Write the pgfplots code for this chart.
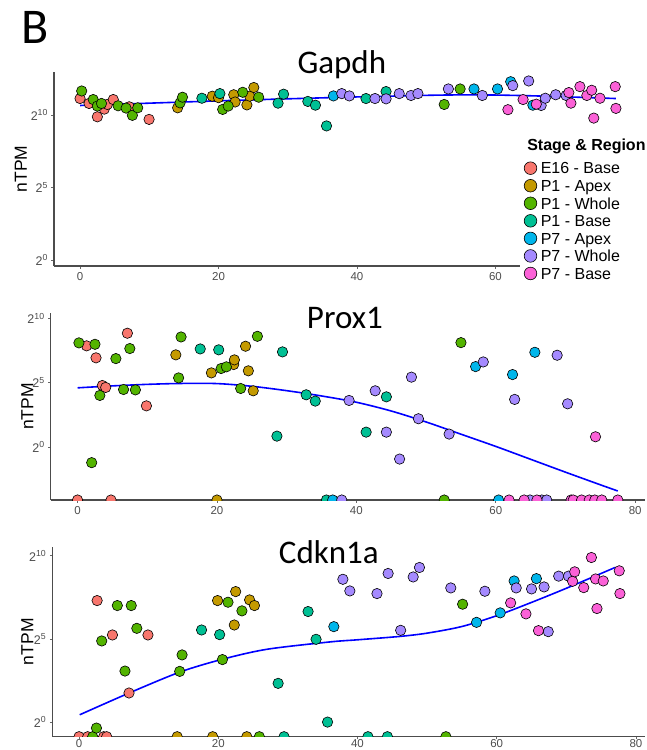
\documentclass[border=0pt]{standalone}
\usepackage{fontspec}
\setmainfont{Liberation Sans}
\newfontfamily\titlefont{Carlito}
\usepackage{pgfplots}
\pgfplotsset{compat=1.18}

\definecolor{cEbase}{HTML}{F8766D}
\definecolor{cPapex}{HTML}{C49A00}
\definecolor{cPwhole}{HTML}{53B400}
\definecolor{cPbase}{HTML}{00C094}
\definecolor{cQapex}{HTML}{00B6EB}
\definecolor{cQwhole}{HTML}{A58AFF}
\definecolor{cQbase}{HTML}{FB61D7}
\definecolor{axgrey}{HTML}{4D4D4D}

\pgfplotsset{
  panel/.style={
    scale only axis,
    axis lines=left,
    axis line style={-, black!70, line width=1.2bp},
    tick align=outside, major tick length=2.5bp,
    tick style={black!60, line width=0.8bp},
    xtick={0,20,40,60,80}, xticklabels={0,20,40,60,80},
    ytick={0,5,10},
    yticklabels={2\textsuperscript{0},2\textsuperscript{5},2\textsuperscript{10}},
    tick label style={font=\fontsize{11.5bp}{13bp}\selectfont, text=axgrey},
    yticklabel style={font=\fontsize{12.5bp}{14bp}\selectfont},
    ylabel={nTPM},
    every axis y label/.style={at={(rel axis cs:0,0.5)}, rotate=90,
      anchor=base, inner sep=0pt, font=\fontsize{17.5bp}{19bp}\selectfont},
    every axis title shift=0pt,
    title style={font=\titlefont\fontsize{33bp}{36bp}\selectfont,
      anchor=base, inner sep=0pt},
    clip marker paths=true,
  },
  dot/.style={only marks, mark=*, mark size=5.2bp,
    mark options={fill=#1, draw=black, line width=0.6bp},
    legend image code/.code={\draw[##1, mark size=6.3bp] plot coordinates {(0bp,1.5bp)};}},
  fit/.style={blue, line width=1.6bp, smooth, no marks, forget plot},
}

\begin{document}
\begin{tikzpicture}
\useasboundingbox (0,0) rectangle (647bp,-750bp);

\node[anchor=base west, inner sep=0pt,
      font=\titlefont\fontsize{50bp}{52bp}\selectfont] at (21.5bp,-43.3bp) {B};

% ---------------- Gapdh -------------------------------------------
\begin{axis}[panel,
  at={(54bp,-266bp)}, anchor=south west,
  width=591bp, height=194.3bp,
  xmin=-3.76, xmax=81.6, ymin=-0.41, ymax=12.99,
  xtick={0,20,40,60}, xticklabels={0,20,40,60},
  title={Gapdh},
  title style={at={(rel axis cs:0.487,1)}, yshift=-1.6bp},
  every axis y label/.append style={yshift=27bp},
  legend cell align=left,
  every axis legend/.append style={at={(rel axis cs:0.7885,0.678)},
    anchor=north west, draw=none, fill=white, inner sep=4bp,
    row sep=2bp, column sep=-9.5bp,
    font=\fontsize{16bp}{18bp}\selectfont,
    nodes={inner sep=0pt, text height=12bp, text depth=3.5bp}},
]
\addplot[fit] coordinates {
  (0,10.66) (10,10.82) (20,10.98) (30,11.12) (40,11.25) (50,11.36)
  (55,11.39) (60,11.38) (65,11.33) (70,11.26) (77.4,11.14)};
\addlegendimage{empty legend}
\addlegendentry[xshift=-13.5bp, text depth=9.4bp]{\textbf{Stage \& Region}}
\addplot[dot=cEbase] coordinates {
  (0,11.14) (1.3,10.8) (2.5,9.88) (3.5,10.41) (3.95,10.73) (4.8,11.07)
  (7.1,10.57) (9.97,9.7)};
\addlegendentry{E16 - Base}
\addplot[dot=cPapex] coordinates {
  (14.1,10.5) (19.1,11.3) (20.0,11.2) (22.2,11.4) (22.4,10.9) (24.1,10.7)
  (24.5,11.3) (25.1,11.9)};
\addlegendentry{P1 - Apex}
\addplot[dot=cPwhole] coordinates {
  (0.24,11.66) (1.9,11.07) (2.5,10.62) (3.1,10.8) (5.5,10.64) (6.65,10.48)
  (7.56,9.98) (8.33,10.5) (14.45,10.84) (14.8,11.23) (20.6,10.39)
  (21.4,10.62) (23.5,11.57) (25.8,11.23) (52.6,10.73) (54.9,11.8)};
\addlegendentry{P1 - Whole}
\addplot[dot=cPbase] coordinates {
  (17.6,11.16) (20.2,11.48) (28.6,10.82) (29.4,11.44) (32.9,10.94)
  (34.0,10.68) (35.6,9.25) (41.3,11.14) (44.2,11.62)};
\addlegendentry{P1 - Base}
\addplot[dot=cQapex] coordinates {
  (36.6,11.32) (56.9,11.8) (60.3,11.8) (62.2,12.3) (65.4,10.68)};
\addlegendentry{P7 - Apex}
\addplot[dot=cQwhole] coordinates {
  (37.8,11.48) (38.9,11.32) (42.6,11.14) (44.2,11.12) (46.1,11.48)
  (47.8,11.35) (48.8,11.48) (53.2,11.8) (58.1,11.35) (62.5,12.03)
  (64.8,12.35) (66.6,10.66) (67.2,11.16) (68.7,11.4) (70.2,11.35)};
\addlegendentry{P7 - Whole}
\addplot[dot=cQbase] coordinates {
  (61.8,10.37) (63.99,11.07) (65.9,10.75) (70.6,11.55) (70.9,10.82)
  (72.2,11.96) (73.2,11.35) (73.9,11.71) (74.2,9.79) (75.1,11.16)
  (77.3,11.96) (77.4,10.46)};
\addlegendentry{P7 - Base}
\end{axis}

% ---------------- Prox1 -------------------------------------------
\begin{axis}[panel,
  at={(50.7bp,-500bp)}, anchor=south west,
  width=594.3bp, height=187bp,
  xmin=-3.85, xmax=81.4, ymin=-4.11, ymax=10.41,
  title={Prox1},
  title style={at={(rel axis cs:0.495,1)}, yshift=-15.3bp},
  every axis y label/.append style={yshift=17.4bp},
]
\addplot[fit] coordinates {
  (0,4.6) (5,4.75) (10,4.87) (15,4.94) (20,4.93) (25,4.72) (30,4.38)
  (35,3.97) (40,3.48) (45,2.8) (50,1.95) (55,1.0) (60,0.05) (65,-0.95)
  (70,-1.95) (75,-2.93) (77.5,-3.41)};
\addplot[dot=cEbase] coordinates {
  (1.3,7.86) (2.65,6.93) (3.56,4.78) (4.04,4.63) (7.15,8.84) (9.88,3.20)
  (0,-4.11) (4.8,-4.11)};
\addplot[dot=cPapex] coordinates {
  (14.1,7.16) (19.2,5.76) (20.0,-4.11) (22.4,6.41) (22.5,6.77) (24.1,7.83)
  (24.5,5.92) (25.2,4.37)};
\addplot[dot=cPwhole] coordinates {
  (0.2,8.09) (2.5,7.98) (3.2,4.01) (5.5,6.87) (6.6,4.47) (7.5,7.65)
  (8.3,4.44) (2.03,-1.21) (14.5,5.37) (14.85,8.55) (20.6,6.10) (21.35,6.23)
  (23.4,4.55) (25.8,8.6) (55.0,8.11) (52.6,-4.11)};
\addplot[dot=cPbase] coordinates {
  (17.6,7.62) (20.25,7.55) (28.6,0.85) (29.4,7.39) (32.8,4.06) (34.1,3.57)
  (35.7,-4.11) (41.4,1.16) (44.3,3.90)};
\addplot[dot=cQapex] coordinates {
  (36.6,-4.11) (57.1,6.25) (60.4,-4.11) (62.4,5.63) (65.6,7.36)};
\addplot[dot=cQwhole] coordinates {
  (37.9,-4.11) (38.95,3.62) (42.7,4.37) (44.3,1.16) (46.2,-0.93)
  (47.9,5.43) (48.9,2.20) (53.3,1.01) (58.2,6.61) (62.7,3.70)
  (64.9,-4.11) (66.6,-4.11) (67.3,-4.11) (68.8,7.13) (70.3,3.36)};
\addplot[dot=cQbase] coordinates {
  (61.9,-4.11) (64.06,-4.11) (65.9,-4.11) (70.8,-4.11) (71.1,-4.11)
  (72.3,-4.11) (73.4,-4.11) (74.2,-4.11) (75.2,-4.11) (77.5,-4.11)
  (74.3,0.80)};
\end{axis}

% ---------------- Cdkn1a ------------------------------------------
\begin{axis}[panel,
  at={(52.3bp,-736.7bp)}, anchor=south west,
  width=592.7bp, height=190bp,
  xmin=-3.84, xmax=81.3, ymin=-0.88, ymax=10.55,
  title={Cdkn1a},
  title style={at={(rel axis cs:0.4666,1)}, yshift=-16.6bp},
  every axis y label/.append style={yshift=19bp},
  xticklabel style={yshift=3bp},
]
\addplot[fit] coordinates {
  (0.1,0.44) (7.2,1.75) (14.5,3.01) (20.6,3.78) (27,4.38) (36,4.82)
  (40,4.95) (46,5.15) (50,5.35) (55,5.75) (60,6.4) (65,7.2) (70,8.05)
  (77,9.3)};
\addplot[dot=cEbase] coordinates {
  (0,-0.88) (1.25,-0.88) (3.54,-0.88) (3.97,-0.88) (2.6,7.31) (4.8,5.24)
  (7.18,1.75) (9.9,5.24)};
\addplot[dot=cPapex] coordinates {
  (14.1,-0.88) (19.2,-0.88) (19.9,7.31) (22.3,5.84) (22.5,7.85)
  (24.1,-0.88) (24.5,7.35) (25.2,7.01)};
\addplot[dot=cPwhole] coordinates {
  (1.96,-0.88) (2.5,-0.36) (3.26,4.88) (5.5,7.01) (6.6,3.07) (7.5,7.01)
  (8.3,5.64) (14.46,3.05) (14.8,4.04) (20.6,3.76) (21.4,7.21) (23.4,6.69)
  (25.9,-0.88) (52.7,-0.88) (55.1,7.09)};
\addplot[dot=cPbase] coordinates {
  (17.6,5.54) (20.2,5.26) (28.6,2.33) (29.45,-0.88) (32.9,6.65)
  (34.05,4.98) (35.7,0.0) (41.5,-0.88) (44.3,-0.88)};
\addplot[dot=cQapex] coordinates {
  (36.6,5.74) (57.1,6.0) (60.5,6.57) (62.5,8.49) (65.7,8.63)};
\addplot[dot=cQwhole] coordinates {
  (37.9,8.59) (38.9,7.89) (42.8,7.73) (44.4,8.94) (46.2,5.52) (48.0,8.73)
  (48.9,9.3) (53.4,8.07) (58.3,7.87) (62.8,8.07) (65.0,8.01) (66.8,8.13)
  (67.4,5.44) (68.9,8.78) (70.3,8.78)};
\addplot[dot=cQbase] coordinates {
  (62.0,7.17) (64.2,6.51) (66.0,5.5) (70.9,8.47) (71.2,9.04) (72.5,8.09)
  (73.6,9.9) (74.2,8.61) (74.4,6.83) (75.3,8.49) (77.6,9.1) (77.7,7.73)};
\end{axis}
\end{tikzpicture}
\end{document}
